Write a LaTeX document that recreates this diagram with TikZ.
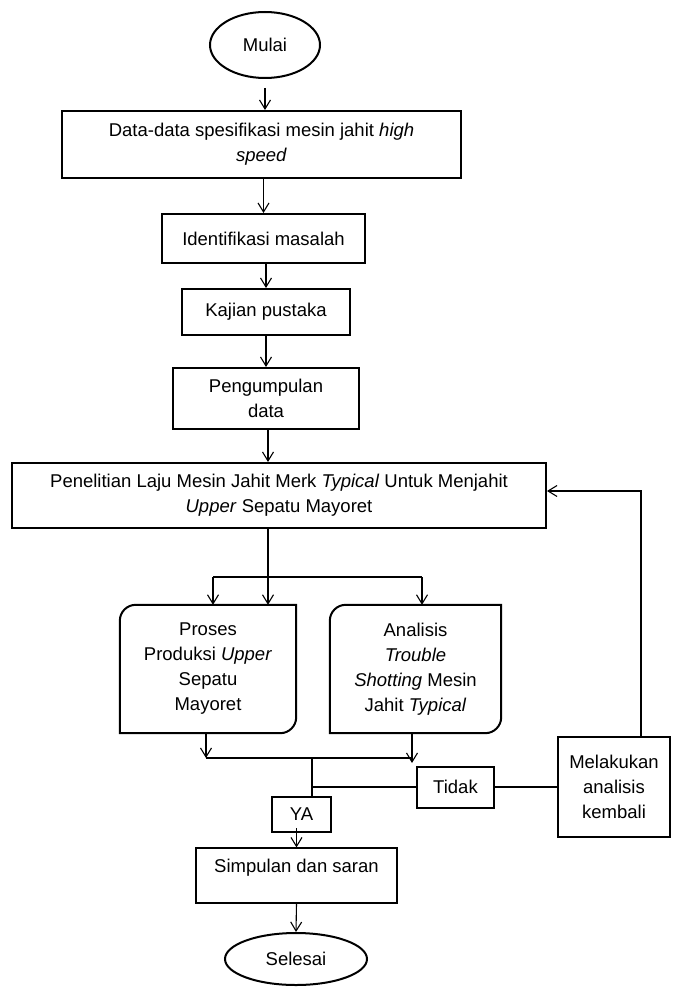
\documentclass[tikz,border=0pt]{standalone}
\usepackage{fontspec}
\setmainfont{Liberation Sans}
\usetikzlibrary{shapes.geometric,arrows.meta}
\begin{document}
\begin{tikzpicture}[x=1pt,y=1pt,
  every node/.style={font=\fontsize{18.5}{25}\selectfont, align=center, inner sep=0pt},
  box/.style={draw, line width=2pt, rectangle},
  thinbox/.style={draw, line width=1.1pt, rectangle},
  term/.style={draw, ellipse, line width=2pt},
  conn/.style={line width=1.1pt},
  arr/.style={line width=1.1pt, -{Straight Barb[length=9pt,width=11pt,line width=1.1pt]}},
  rbox/.style={line width=2pt}
]
\useasboundingbox (0,0) rectangle (672,-987);

\node[term, minimum width=110, minimum height=66] (mulai) at (265,-45) {Mulai};
\node[box, minimum width=399, minimum height=67] (n1) at (261.5,-144.5) {Data-data spesifikasi mesin jahit \textit{high}\\\textit{speed}};
\node[box, minimum width=203, minimum height=49] (n2) at (263.5,-238.5) {Identifikasi masalah};
\node[box, minimum width=168, minimum height=46] (n3) at (266,-312) {Kajian pustaka};
\node[box, minimum width=186, minimum height=61] (n4) at (266,-398.5) {Pengumpulan\\data};
\node[box, minimum width=534, minimum height=65] (n5) at (279,-495.5) {Penelitian Laju Mesin Jahit Merk \textit{Typical} Untuk Menjahit\\\textit{Upper} Sepatu Mayoret};
\node[minimum width=176, minimum height=128] (proses) at (208,-669) {Proses\\Produksi \textit{Upper}\\Sepatu\\Mayoret};
\node[minimum width=171, minimum height=128] (anal) at (415.5,-669) {Analisis\\\textit{Trouble}\\\textit{Shotting} Mesin\\Jahit \textit{Typical}};
\foreach \n in {proses,anal}
  \draw[rbox] ([xshift=16pt]\n.north west) -- (\n.north east) -- ([yshift=16pt]\n.south east)
     arc[start angle=0,end angle=-90,radius=16pt] -- (\n.south west) -- ([yshift=-16pt]\n.north west)
     arc[start angle=180,end angle=90,radius=16pt] -- cycle;
\node[box, minimum width=77, minimum height=41] (tidak) at (455.5,-787) {Tidak};
\node[box, minimum width=59, minimum height=35] (ya) at (301.5,-814.5) {YA};
\node[box, minimum width=112, minimum height=100] (melak) at (614,-787) {Melakukan\\analisis\\kembali};
\node[thinbox, minimum width=201, text height=20pt, text depth=27pt, inner ysep=4pt] (simp) at (296.5,-875.5) {Simpulan dan saran};
\node[term, minimum width=142, minimum height=52] (selesai) at (296,-959) {Selesai};

\coordinate (vx) at (268,0);
\coordinate (bl) at (213,-577);
\coordinate (bR) at (422,-577);
\coordinate (jl) at (206,-758);
\coordinate (jr) at (412,-758);
\coordinate (j) at (312,-758);
\coordinate (fb) at (641,-491);

\draw[arr] ([yshift=-9pt]mulai.south) -- (mulai.south |- n1.north);
\draw[arr] (n1.south -| n2.north) -- (n2.north);
\draw[arr] (n2.south -| n3.north) -- (n3.north);
\draw[arr] (n3.south) -- (n4.north);
\draw[arr] (n4.south -| vx) -- (n5.north -| vx);
\draw[arr] (n5.south -| vx) -- (proses.north -| vx);
\draw[conn] (bl) -- (bR);
\draw[arr] (bl) -- (bl |- proses.north);
\draw[arr] (bR) -- (bR |- anal.north);
\draw[arr] (proses.south -| jl) -- (jl);
\draw[arr] (anal.south -| jr) -- ([yshift=-5pt]jr);
\draw[conn] (jl) -- (jr);
\draw[conn] (j) -- (j |- ya.north);
\draw[conn] (j |- tidak.west) -- (tidak.west);
\draw[conn] (tidak.east) -- (melak.west);
\draw[arr] (melak.north -| fb) -- (fb) -- (fb -| n5.east);
\draw[arr] ([yshift=5pt]ya.south -| simp.north) -- (simp.north);
\draw[arr] (simp.south) -- (selesai.north);
\end{tikzpicture}
\end{document}
